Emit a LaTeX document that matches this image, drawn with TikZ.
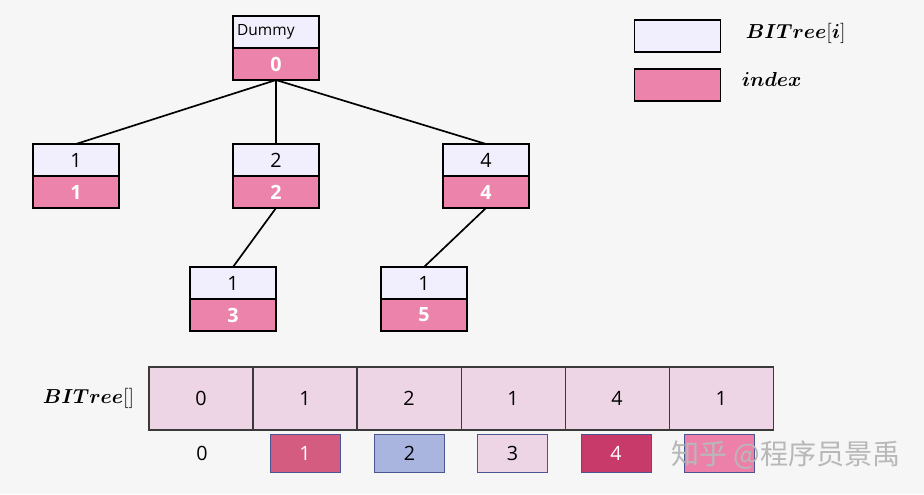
\documentclass[tikz,border=0pt]{standalone}
\usepackage{amsmath}
\usepackage{fontspec}
\setmainfont{Open Sans}
\newfontfamily\cjk{Noto Sans CJK SC}
\usetikzlibrary{positioning}

\definecolor{bgcol}{HTML}{F6F6F6}
\definecolor{lavcol}{HTML}{F1EEFD}
\definecolor{idxcol}{HTML}{EC83AA}
\definecolor{cellcol}{HTML}{EDD5E6}
\definecolor{celledge}{HTML}{3A3A3A}
\definecolor{boxedge}{HTML}{4B5590}
\definecolor{boxa}{HTML}{D35C80}
\definecolor{boxb}{HTML}{A9B5DF}
\definecolor{boxc}{HTML}{EDD5E6}
\definecolor{boxd}{HTML}{C83A6A}
\definecolor{boxe}{HTML}{EC80A9}

\tikzset{
  treetop/.style={draw, line width=1.3pt, fill=lavcol, minimum width=2.15cm,
    minimum height=0.8cm, inner sep=0pt, outer sep=0pt, font=\fontsize{14}{16}\selectfont},
  treeidx/.style={treetop, fill=idxcol, text=white, font=\fontsize{14}{16}\selectfont\bfseries},
  treeedge/.style={line width=1.2pt},
  arrcell/.style={draw=celledge, line width=0.8pt, fill=cellcol, minimum width=2.6cm,
    minimum height=1.575cm, inner sep=0pt, outer sep=0pt, font=\fontsize{14}{16}\selectfont},
  idxbox/.style={draw=boxedge, line width=0.6pt, minimum width=1.75cm,
    minimum height=0.95cm, inner sep=0pt, font=\fontsize{14}{16}\selectfont},
  mathlbl/.style={font=\fontsize{15}{18}\selectfont}
}

\begin{document}
\begin{tikzpicture}[x=0.025cm,y=-0.025cm]
        % Background
        \fill[bgcol] (0,0) rectangle (924,494);
        \useasboundingbox (0,0) rectangle (924,494);

        % Tree
        \node[treetop, text width=2.15cm-6pt, inner xsep=3pt, align=left,
          font=\fontsize{11}{13}\selectfont] (t0) at (276,32) {Dummy};
        \node[treeidx, below=0pt of t0] (i0) {0};

        \node[treetop] (t1) at (76,160) {1};
        \node[treeidx, below=0pt of t1] (i1) {1};

        \node[treetop] (t2) at (276,160) {2};
        \node[treeidx, below=0pt of t2] (i2) {2};

        \node[treetop] (t4) at (486,160) {4};
        \node[treeidx, below=0pt of t4] (i4) {4};

        \node[treetop] (t3) at (233,283) {1};
        \node[treeidx, below=0pt of t3] (i3) {3};

        \node[treetop] (t5) at (424,283) {1};
        \node[treeidx, below=0pt of t5] (i5) {5};

        \draw[treeedge] (i0.south) -- (t1.north);
        \draw[treeedge] (i0.south) -- (t2.north);
        \draw[treeedge] (i0.south) -- (t4.north);
        \draw[treeedge] (i2.south) -- (t3.north);
        \draw[treeedge] (i4.south) -- (t5.north);

        % Legend
        \node[treetop, minimum height=0.8cm] (lega) at (677.5,36) {};
        \node[treeidx] (legb) at (677.5,85) {};
        \node[mathlbl, anchor=west] (legtxta) at (741,33) {$\boldsymbol{BITree}[\boldsymbol{i}]$};
        \node[mathlbl, anchor=west] (legtxtb) at (737,79) {$\boldsymbol{index}$};

        % Array
        \node[arrcell] (a0) at (201,398.5) {0};
        \node[arrcell, right=0pt of a0] (a1) {1};
        \node[arrcell, right=0pt of a1] (a2) {2};
        \node[arrcell, right=0pt of a2] (a3) {1};
        \node[arrcell, right=0pt of a3] (a4) {4};
        \node[arrcell, right=0pt of a4] (a5) {1};
        \node[mathlbl, left=7pt of a0] (arrlbl) {$\boldsymbol{BITree}[]$};

        % Indices
        \node[font=\fontsize{14}{16}\selectfont] (b0) at (202,453) {0};
        \node[idxbox, fill=boxa, text=white] (b1) at (305,453) {1};
        \node[idxbox, fill=boxb] (b2) at (409.5,453) {2};
        \node[idxbox, fill=boxc] (b3) at (512.5,453) {3};
        \node[idxbox, fill=boxd, text=white] (b4) at (616,453) {4};
        \node[idxbox, fill=boxe] (b5) at (719.5,453) {};

        % Watermark
        \node[font=\cjk\fontsize{20}{24}\selectfont, text=black!28] (wm) at (786,455) {知乎 @程序员景禹};
    \end{tikzpicture}
\end{document}
